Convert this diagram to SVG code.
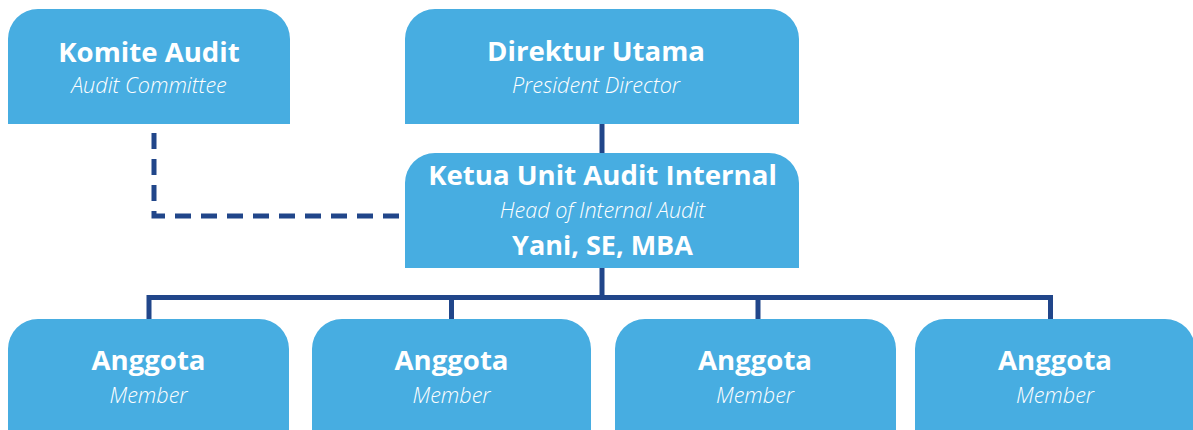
<svg xmlns="http://www.w3.org/2000/svg" width="1193" height="430" viewBox="0 0 1193 430">
<style>
.box{fill:#47ADE1;}
.t{font-family:"Open Sans","Noto Sans","Liberation Sans",sans-serif;font-weight:700;fill:#ffffff;text-anchor:middle;font-size:27.6px;}
.s{font-family:"Open Sans","Noto Sans","Liberation Sans",sans-serif;font-weight:300;font-style:italic;fill:#ffffff;text-anchor:middle;font-size:21.6px;}
.ln{fill:none;stroke:#21468A;stroke-width:5;}
.dash{fill:none;stroke:#21468A;stroke-width:5;stroke-dasharray:16 10;}
</style>
<rect width="1193" height="430" fill="#ffffff"/>
<g id="connectors">
<path class="dash" d="M154 133 V216 H400"/>
<path class="ln" d="M602 124 V153"/>
<path class="ln" d="M602 268 V297.5 M149 319 V297.5 H1050.5 V319 M451.5 297.5 V319 M758 297.5 V319"/>
</g>
<g id="komite-audit">
<path class="box" d="M8 124 V39 A30 30 0 0 1 38 9 H260 A30 30 0 0 1 290 39 V124 Z"/>
<text class="t" x="149" y="62">Komite Audit</text>
<text class="s" x="149" y="93">Audit Committee</text>
</g>
<g id="direktur-utama">
<path class="box" d="M405 124 V39 A30 30 0 0 1 435 9 H769 A30 30 0 0 1 799 39 V124 Z"/>
<text class="t" x="596" y="61">Direktur Utama</text>
<text class="s" x="596" y="93">President Director</text>
</g>
<g id="ketua-unit-audit">
<path class="box" d="M405 268 V183 A30 30 0 0 1 435 153 H769 A30 30 0 0 1 799 183 V268 Z"/>
<text class="t" x="602.5" y="185">Ketua Unit Audit Internal</text>
<text class="s" x="602.5" y="218">Head of Internal Audit</text>
<text class="t" x="602.5" y="255" style="font-size:27px">Yani, SE, MBA</text>
</g>
<g id="anggota-1">
<path class="box" d="M8 440 V349 A30 30 0 0 1 38 319 H259 A30 30 0 0 1 289 349 V440 Z"/>
<text class="t" x="148.5" y="370">Anggota</text>
<text class="s" x="148.5" y="403">Member</text>
</g>
<g id="anggota-2">
<path class="box" d="M312 440 V349 A30 30 0 0 1 342 319 H561 A30 30 0 0 1 591 349 V440 Z"/>
<text class="t" x="451.5" y="370">Anggota</text>
<text class="s" x="451.5" y="403">Member</text>
</g>
<g id="anggota-3">
<path class="box" d="M615 440 V349 A30 30 0 0 1 645 319 H866 A30 30 0 0 1 896 349 V440 Z"/>
<text class="t" x="755" y="370">Anggota</text>
<text class="s" x="755" y="403">Member</text>
</g>
<g id="anggota-4">
<path class="box" d="M915 440 V349 A30 30 0 0 1 945 319 H1165 A30 30 0 0 1 1195 349 V440 Z"/>
<text class="t" x="1055" y="370">Anggota</text>
<text class="s" x="1055" y="403">Member</text>
</g>
</svg>
